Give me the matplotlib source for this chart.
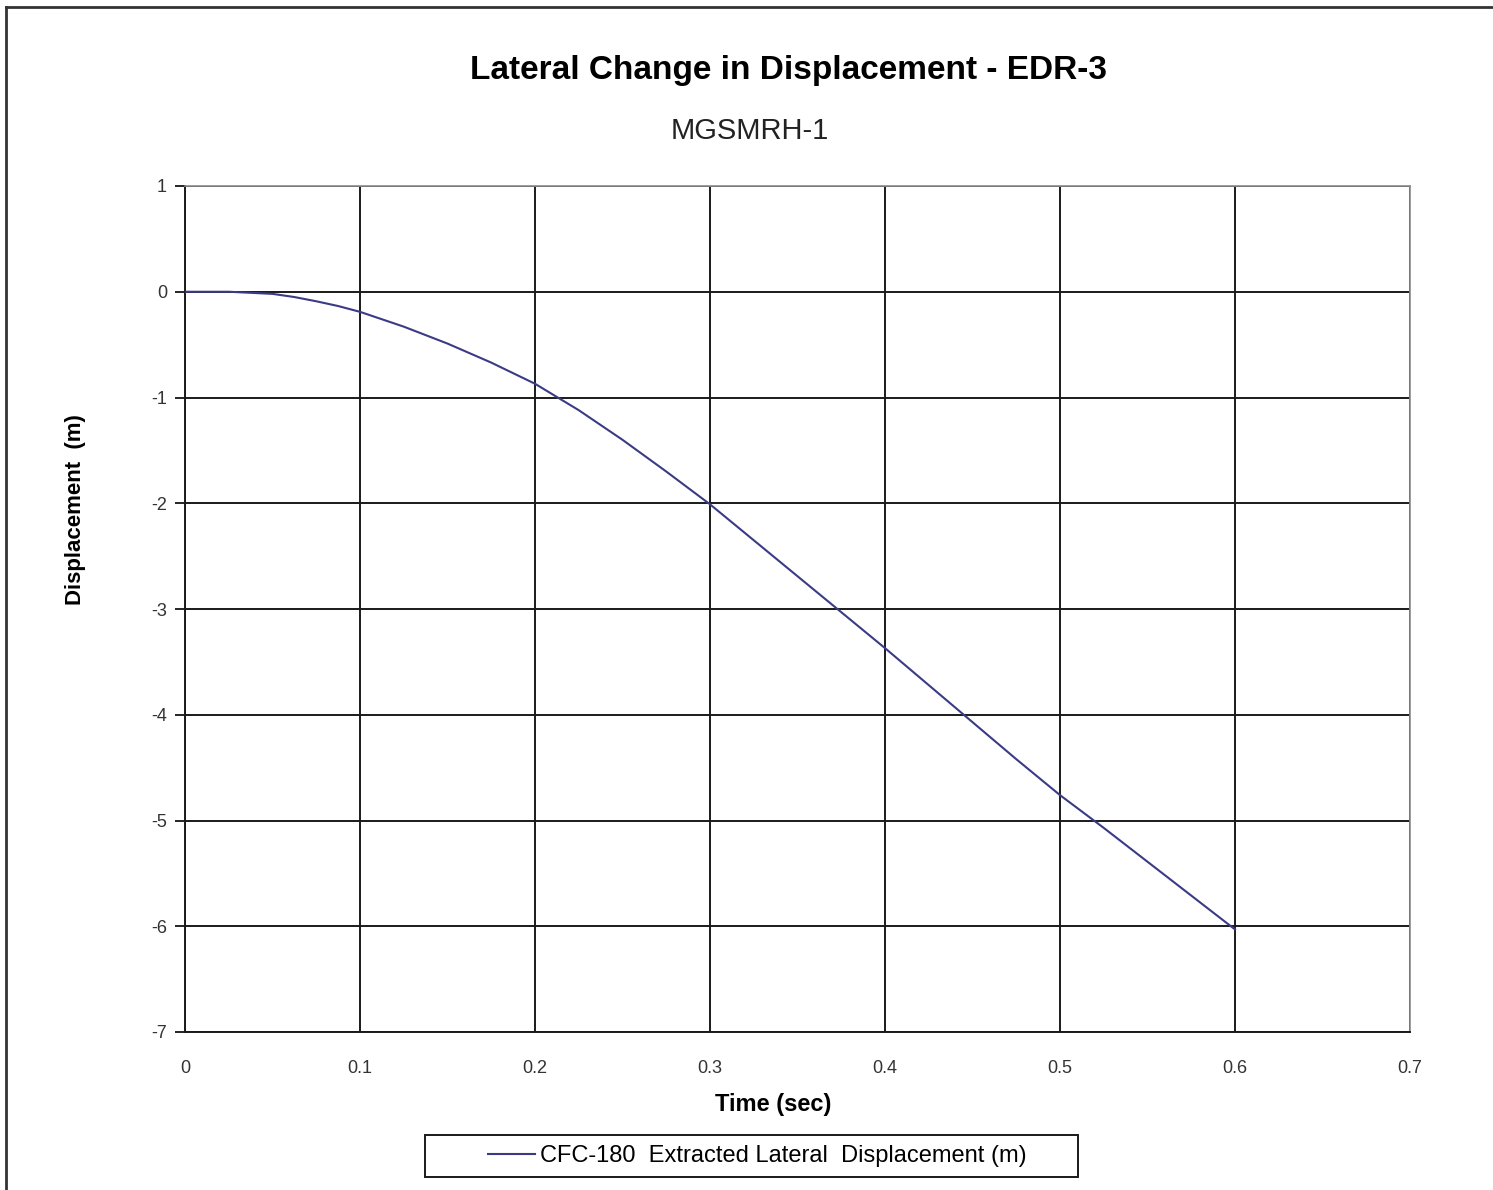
import matplotlib
matplotlib.use("Agg")
import matplotlib.pyplot as plt
from matplotlib.lines import Line2D
from matplotlib.patches import Rectangle

plt.rcParams['font.family'] = ['Liberation Sans', 'DejaVu Sans']

time_sec = [0, 0.025, 0.05, 0.0625, 0.075, 0.0875, 0.1, 0.125, 0.15, 0.175, 0.2,
            0.225, 0.25, 0.275, 0.3, 0.325, 0.35, 0.375, 0.4, 0.425, 0.45,
            0.475, 0.5, 0.525, 0.55, 0.575, 0.6]
displacement_m = [0, 0, -0.02, -0.05, -0.09, -0.135, -0.19, -0.33, -0.49, -0.67, -0.87,
                  -1.12, -1.40, -1.70, -2.01, -2.35, -2.69, -3.03, -3.37, -3.72, -4.07,
                  -4.42, -4.76, -5.07, -5.39, -5.71, -6.03]
x_ticks = [0, 0.1, 0.2, 0.3, 0.4, 0.5, 0.6, 0.7]
x_tick_labels = ['0', '0.1', '0.2', '0.3', '0.4', '0.5', '0.6', '0.7']
y_ticks = [1, 0, -1, -2, -3, -4, -5, -6, -7]
y_tick_labels = ['1', '0', '-1', '-2', '-3', '-4', '-5', '-6', '-7']
series_label = 'CFC-180  Extracted Lateral  Displacement (m)'

W, H = 1493, 1190
fig = plt.figure(figsize=(W / 100, H / 100), dpi=100)
ax = fig.add_axes([185 / W, 1 - 1032 / H, (1410 - 185) / W, (1032 - 186) / H])

line, = ax.plot(time_sec, displacement_m, color='#3b3b85', lw=1.5, zorder=3)
ax.set_xlim(0, 0.7)
ax.set_ylim(-7, 1)
ax.set_xticks(x_ticks)
ax.set_xticklabels(x_tick_labels)
ax.set_yticks(y_ticks)
ax.set_yticklabels(y_tick_labels)
ax.grid(True, color='#1a1a1a', lw=1.4, zorder=1)
ax.set_axisbelow(True)
for s in ['top', 'right']:
    ax.spines[s].set_color('#8c8c8c')
    ax.spines[s].set_linewidth(1.2)
for s in ['left', 'bottom']:
    ax.spines[s].set_color('#1a1a1a')
    ax.spines[s].set_linewidth(1.4)
ax.tick_params(axis='y', direction='out', length=7, width=1.2, labelsize=13,
               labelcolor='#333333', pad=6)
ax.tick_params(axis='x', direction='out', length=0, labelsize=13,
               labelcolor='#333333', pad=20)

ax.set_xlabel('Time (sec)', fontsize=17, fontweight='bold', labelpad=12)
ax.xaxis.label.set_x((773 - 185) / 1225)
ax.set_ylabel('Displacement  (m)', fontsize=16, fontweight='bold', labelpad=47)
ax.yaxis.label.set_y((1032 - 510) / 846)

fig.text(788 / W, 1 - 70 / H, 'Lateral Change in Displacement - EDR-3',
         ha='center', va='center', fontsize=24, fontweight='bold')
fig.text(750 / W, 1 - 131 / H, 'MGSMRH-1', ha='center', va='center',
         fontsize=21, color='#222222')

# legend
leg = fig.legend([line], [series_label], loc='center left',
                 bbox_to_anchor=(488 / W, 1 - 1156 / H), fontsize=17,
                 frameon=False, handlelength=2.0, handletextpad=0.2,
                 borderpad=0, borderaxespad=0)
fig.add_artist(Rectangle((425 / W, 1 - 1177 / H), (1078 - 425) / W, 42 / H,
                         transform=fig.transFigure, fill=False,
                         edgecolor='#1a1a1a', lw=1.4))

# figure border (left and top)
fig.add_artist(Line2D([6 / W, 6 / W], [0, 1 - 7 / H], color='#333333', lw=2,
                      transform=fig.transFigure))
fig.add_artist(Line2D([6 / W, 1], [1 - 7 / H, 1 - 7 / H], color='#333333', lw=2,
                      transform=fig.transFigure))

fig.savefig('out.png', dpi=100)
